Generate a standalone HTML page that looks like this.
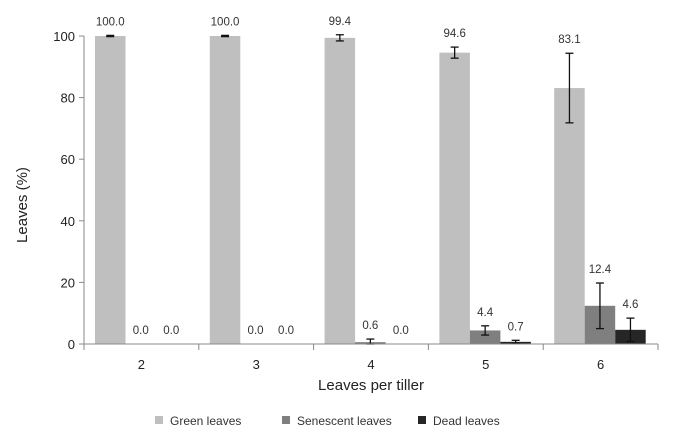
<!DOCTYPE html>
<html><head><meta charset="utf-8"><style>
body{margin:0;background:#fff;}
svg{display:block;font-family:"Liberation Sans",Arial,sans-serif;}
</style></head><body>
<svg id="chart" width="675" height="440">
<g id="plot"></g>
<text x="27" y="205" transform="rotate(-90 27 205)" text-anchor="middle" font-size="15" fill="#222">Leaves (%)</text>
<text x="371" y="390" text-anchor="middle" font-size="15" fill="#222">Leaves per tiller</text>
<g>
<g><rect x="155" y="416" width="8" height="8" fill="#bfbfbf"/><text x="170" y="425" font-size="12" fill="#333">Green leaves</text></g>
<g><rect x="282" y="416" width="8" height="8" fill="#7f7f7f"/><text x="297" y="425" font-size="12" fill="#333">Senescent leaves</text></g>
<g><rect x="418" y="416" width="8" height="8" fill="#262626"/><text x="433" y="425" font-size="12" fill="#333">Dead leaves</text></g>
</g>
</svg>
<script>
const categories=["2","3","4","5","6"];
const green=[100.0,100.0,99.4,94.6,83.1];
const senescent=[0.0,0.0,0.6,4.4,12.4];
const dead=[0.0,0.0,0.0,0.7,4.6];
const greenErr=[0.2,0.2,1.0,1.8,11.3];
const senescentErr=[0,0,1.0,1.5,7.4];
const deadErr=[0,0,0,0.5,3.8];
const yTicks=[0,20,40,60,80,100];

const NS="http://www.w3.org/2000/svg";
const plot=document.getElementById('plot');
const x0=84,x1=658,yBase=344,yTop=36;
const band=(x1-x0)/categories.length;
const y=v=>yBase-(v/100)*(yBase-yTop);
function mk(tag,attrs,parent){const e=document.createElementNS(NS,tag);for(const k in attrs)e.setAttribute(k,attrs[k]);(parent||plot).appendChild(e);return e;}
let ax=mk('line',{x1:x0,y1:yTop,x2:x0,y2:yBase,stroke:'#888'});


yTicks.forEach(t=>{
  mk('line',{x1:x0-5,y1:y(t),x2:x0,y2:y(t),stroke:'#888'});
  const tx=mk('text',{x:x0-9,y:y(t)+5,'text-anchor':'end','font-size':13,fill:'#222'});
  tx.textContent=t;
  
  
});
const series=[[green,greenErr,'#bfbfbf','green'],[senescent,senescentErr,'#7f7f7f','senescent'],[dead,deadErr,'#262626','dead']];
const bw=30.5,pad=11;
categories.forEach((c,i)=>{
  const bx=x0+i*band;
  series.forEach((s,j)=>{
    const v=s[0][i],e=s[1][i];
    const left=bx+pad+j*bw;
    const r=mk('rect',{x:left,y:y(v),width:bw,height:Math.max(0,yBase-y(v)),fill:s[2]});
    
    
    const cx=left+bw/2;
    if(e>0){
      const lo=Math.max(0,v-e);
      mk('line',{x1:cx,y1:y(v+e),x2:cx,y2:y(lo),stroke:'#111','stroke-width':1.3});
      mk('line',{x1:cx-4,y1:y(v+e),x2:cx+4,y2:y(v+e),stroke:'#111','stroke-width':1.3});
      mk('line',{x1:cx-4,y1:y(lo),x2:cx+4,y2:y(lo),stroke:'#111','stroke-width':1.3});
    }
    const lt=mk('text',{x:cx,y:y(v+e)-10,'text-anchor':'middle','font-size':11.5,fill:'#333'});
    lt.textContent=v.toFixed(1);
    
    
  });
  const xl=mk('text',{x:bx+band/2,y:yBase+25,'text-anchor':'middle','font-size':13,fill:'#222'});
  xl.textContent=c;
  
  
});
for(let i=0;i<=categories.length;i++){mk('line',{x1:x0+i*band,y1:yBase,x2:x0+i*band,y2:yBase+6,stroke:'#888'});}
const xa=mk('line',{x1:x0-5,y1:yBase,x2:x1,y2:yBase,stroke:'#888'});


</script>
</body></html>
